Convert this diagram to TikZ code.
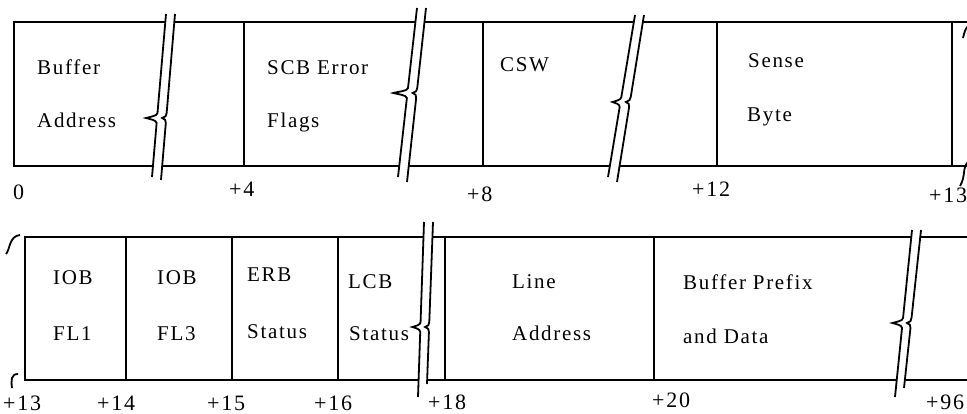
\documentclass[tikz,border=0pt]{standalone}
\usepackage{fontspec}
\setmainfont{Liberation Serif}[LetterSpace=8]
\usepackage{tikz}
\usetikzlibrary{calc}

% one slanted cut line with its little notch
\newcommand{\cutline}[6]{%
\draw[cut] (#1,#2) -- ($(#1,#2)!{(#5+5-(#2))/((#4)-(#2))}!(#3,#4)$)
  .. controls +(0,-3) and +(3,1) .. ($(#1,#2)!{(#5-(#2))/((#4)-(#2))}!(#3,#4)+(-#6,0)$)
  .. controls +(3,-1) and +(0,3) .. ($(#1,#2)!{(#5-5-(#2))/((#4)-(#2))}!(#3,#4)$) -- (#3,#4);}
% double cut mark across a row
\newcommand{\cutmark}[7]{%
\fill[white] (#1,#2) -- (#3,#4) -- ($(#3,#4)+(9,0)$) -- ($(#1,#2)+(9,0)$) -- cycle;
\cutline{#1}{#2}{#3}{#4}{#5}{#6}
\cutline{#1+9}{#7}{#3+9}{#4}{#5}{4}}

\begin{document}
\begin{tikzpicture}[x=1pt, y=-1pt,
  box/.style={line width=2pt},
  cut/.style={line width=1.8pt},
  lbl/.style={anchor=base west, inner sep=0pt, font=\fontsize{21}{24}\selectfont},
  offs/.style={anchor=base west, inner sep=0pt, font=\fontsize{22}{24}\selectfont}]
\useasboundingbox (0,0) rectangle (967,414);

% first row
\draw[box] (967,22) -- (14,22) -- (14,166) -- (967,166);
\draw[box] (244,22) -- (244,166);
\draw[box] (483,22) -- (483,166);
\draw[box] (717,22) -- (717,166);
\draw[box] (952,22) -- (952,166);
\cutmark{152}{177}{166}{14}{118}{11}{180}
\cutmark{398}{177}{417}{8}{93}{14}{182}
\cutmark{608}{177}{635}{15}{102}{8}{182}
\draw[cut] (968,26) .. controls (965,30) .. (963,38);
\draw[cut] (968,162) .. controls (962,168) and (966,176) .. (960,186);

\node[lbl] (bufA) at (37,75) {Buffer};
\node[lbl] (bufB) at (37,128) {Address};
\node[lbl] (scbA) at (267,75) {SCB Error};
\node[lbl] (scbB) at (267,128) {Flags};
\node[lbl] (csw) at (500,72) {CSW};
\node[lbl] (senseA) at (748,68) {Sense};
\node[lbl] (senseB) at (747,122) {Byte};

\node[offs] (o0) at (13,200) {0};
\node[offs] (o4) at (229,197) {+4};
\node[offs] (o8) at (467,202) {+8};
\node[offs] (o12) at (692,197) {+12};
\node[offs] (o13a) at (929,203) {+13};

% second row
\draw[box] (967,237) -- (25,237) -- (25,380) -- (967,380);
\draw[box] (126,237) -- (126,380);
\draw[box] (232,237) -- (232,380);
\draw[box] (338,237) -- (338,380);
\draw[box] (445,237) -- (445,380);
\draw[box] (654,237) -- (654,380);
\cutmark{418}{397}{424}{222}{327}{8}{384}
\cutmark{895}{397}{912}{230}{323}{10}{388}
\draw[cut] (6,254) .. controls (10,250) and (9,236) .. (20,235);
\draw[cut] (18,374) .. controls (11,374) and (11,380) .. (12,388);

\node[lbl] (iobA) at (53,285) {IOB};
\node[lbl] (iobB) at (53,340) {FL1};
\node[lbl] (iobC) at (157,285) {IOB};
\node[lbl] (iobD) at (157,340) {FL3};
\node[lbl] (erbA) at (247,282) {ERB};
\node[lbl] (erbB) at (247,338) {Status};
\node[lbl] (lcbA) at (348,288) {LCB};
\node[lbl] (lcbB) at (349,340) {Status};
\node[lbl] (lineA) at (512,288) {Line};
\node[lbl] (lineB) at (512,340) {Address};
\node[lbl] (bpfA) at (683,290) {Buffer Prefix};
\node[lbl] (bpfB) at (683,343) {and Data};

\node[offs] (o13b) at (3,410) {+13};
\node[offs] (o14) at (97,410) {+14};
\node[offs] (o15) at (207,410) {+15};
\node[offs] (o16) at (314,410) {+16};
\node[offs] (o18) at (428,409) {+18};
\node[offs] (o20) at (652,407) {+20};
\node[offs] (o96) at (926,409) {+96};
\end{tikzpicture}
\end{document}
